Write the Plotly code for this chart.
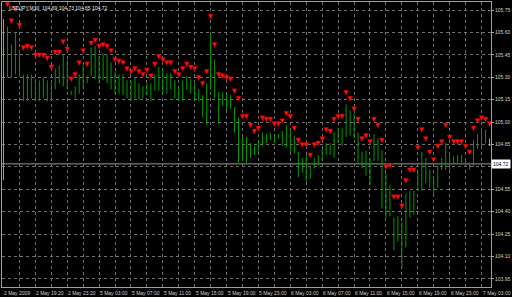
import plotly.graph_objects as go

# ---- data ----
bars = list(range(-1, 122))

highs = [105.69,
 105.64, 105.52, 105.60, 105.48, 105.32, 105.32, 105.32, 105.29, 105.28, 105.30,
 105.28, 105.26, 105.36, 105.38, 105.45, 105.42, 105.21, 105.24, 105.32, 105.38,
 105.31, 105.50, 105.51, 105.44, 105.46, 105.45, 105.40, 105.34, 105.32, 105.32,
 105.28, 105.28, 105.30, 105.26, 105.24, 105.26, 105.26, 105.32, 105.37, 105.36,
 105.33, 105.33, 105.28, 105.23, 105.28, 105.31, 105.29, 105.26, 105.22, 105.18,
 105.26, 105.60, 105.42, 105.20, 105.20, 105.19, 105.18, 105.10, 105.03, 104.90,
 104.90, 104.86, 104.84, 104.88, 104.93, 104.92, 104.93, 104.91, 104.92, 104.94,
 104.98, 104.95, 104.91, 104.80, 104.76, 104.78, 104.70, 104.76, 104.78, 104.82,
 104.86, 104.86, 104.93, 104.96, 104.96, 105.12, 105.08, 105.06, 104.93, 104.80,
 104.81, 104.76, 104.92, 104.89, 104.81, 104.66, 104.58, 104.36, 104.37, 104.33,
 104.52, 104.54, 104.54, 104.68, 104.80, 104.76, 104.68, 104.62, 104.71, 104.76,
 104.86, 104.80, 104.77, 104.78, 104.78, 104.76, 104.73, 104.88, 104.92, 104.96,
 104.95, 104.89]

lows = [104.61,
 105.30, 105.30, 105.32, 105.30, 105.14, 105.14, 105.16, 105.14, 105.14, 105.16,
 105.14, 105.14, 105.22, 105.26, 105.24, 105.22, 105.18, 105.16, 105.19, 105.22,
 105.26, 105.31, 105.29, 105.26, 105.28, 105.26, 105.22, 105.19, 105.19, 105.18,
 105.16, 105.14, 105.16, 105.15, 105.16, 105.18, 105.14, 105.21, 105.21, 105.19,
 105.19, 105.22, 105.16, 105.14, 105.14, 105.22, 105.19, 105.14, 105.14, 105.03,
 104.98, 105.22, 105.16, 104.99, 105.11, 105.08, 105.09, 104.93, 104.73, 104.74,
 104.73, 104.76, 104.78, 104.80, 104.84, 104.86, 104.88, 104.86, 104.89, 104.84,
 104.83, 104.80, 104.79, 104.63, 104.66, 104.60, 104.62, 104.69, 104.71, 104.74,
 104.78, 104.78, 104.76, 104.86, 104.84, 104.90, 104.91, 104.89, 104.72, 104.69,
 104.64, 104.58, 104.74, 104.74, 104.42, 104.36, 104.37, 104.14, 104.20, 104.02,
 104.16, 104.36, 104.38, 104.54, 104.54, 104.59, 104.56, 104.50, 104.56, 104.68,
 104.68, 104.68, 104.72, 104.72, 104.72, 104.71, 104.68, 104.70, 104.82, 104.83,
 104.86, 104.84]

signal = [None,
 105.77, 105.66, 105.74, 105.63, 105.48, 105.49, 105.48, 105.43, 105.43, 105.43,
 105.41, 105.35, 105.45, 105.45, 105.52, 105.47, 105.27, 105.30, 105.38, 105.46,
 105.37, 105.51, 105.53, 105.49, 105.50, 105.49, 105.46, 105.40, 105.39, 105.38,
 105.34, 105.32, 105.34, 105.32, 105.30, 105.33, 105.29, 105.37, 105.42, 105.40,
 105.38, 105.38, 105.32, 105.30, 105.34, 105.37, 105.35, 105.34, 105.28, 105.24,
 105.32, 105.69, 105.50, 105.30, 105.29, 105.28, 105.27, 105.19, 105.14, 105.02,
 105.02, 104.96, 104.92, 104.94, 105.01, 105.00, 105.00, 104.97, 104.97, 104.99,
 105.04, 105.02, 104.94, 104.86, 104.83, 104.83, 104.76, 104.83, 104.84, 104.87,
 104.93, 104.92, 105.00, 105.02, 105.02, 105.18, 105.14, 105.07, 105.00, 104.87,
 104.89, 104.85, 105.00, 104.96, 104.86, 104.68, 104.69, 104.48, 104.48, 104.42,
 104.59, 104.66, 104.66, 104.81, 104.93, 104.87, 104.78, 104.73, 104.82, 104.85,
 104.96, 104.88, 104.85, 104.85, 104.85, 104.82, 104.78, 104.94, 104.99, 105.01,
 105.00, 104.97]

time_labels = ["2 May 2009", "2 May 19:20", "2 May 23:20", "5 May 03:00", "5 May 07:00",
               "5 May 11:00", "5 May 15:00", "5 May 19:00", "5 May 23:00", "6 May 03:00",
               "6 May 07:00", "6 May 11:00", "6 May 15:00", "6 May 19:00", "6 May 23:00",
               "7 May 03:00"]
time_label_bars = [-1, 7, 15, 23, 31, 39, 47, 55, 63, 71, 79, 87, 95, 103, 111, 119]
grid_bars = list(range(3, 122, 4))

price_ticks = [103.95, 104.10, 104.25, 104.40, 104.55, 104.70, 104.85,
               105.00, 105.15, 105.30, 105.45, 105.60, 105.75]
last_close = 104.72
title_text = "USDJPY,M30  104.69 104.73 104.65 104.72"

FONT = "Liberation Sans"
GRID = "#707070"
TXT = "#d0d0d0"


def segments(indices):
    xs, ys = [], []
    for k in indices:
        xs += [bars[k], bars[k], None]
        ys += [highs[k], lows[k], None]
    return xs, ys


main_idx = list(range(1, len(bars) - 1))
edge_idx = [0, len(bars) - 1]

fig = go.Figure()
mx, my = segments(main_idx)
fig.add_trace(go.Scatter(x=mx, y=my, mode="lines", line=dict(color="#009c00", width=1),
                         hoverinfo="skip"))
ex, ey = segments(edge_idx)
fig.add_trace(go.Scatter(x=ex, y=ey, mode="lines", line=dict(color="#40e040", width=1),
                         hoverinfo="skip"))
fig.add_trace(go.Scatter(x=bars, y=signal, mode="markers",
                         marker=dict(symbol="arrow-down", size=5, color="#ff1010",
                                     line=dict(color="#a00000", width=0.5))))

fig.add_shape(type="line", xref="paper", x0=0, x1=1, yref="y", y0=last_close, y1=last_close,
              line=dict(color="#9a9a9a", width=1), layer="below")

fig.add_annotation(xref="paper", x=1, yref="y", y=last_close, text=f"{last_close:.2f}",
                   xanchor="left", yanchor="middle", showarrow=False, bgcolor="white",
                   borderpad=1, font=dict(family=FONT, size=5, color="black"))

fig.add_annotation(xref="paper", x=0, yref="paper", y=1, text=title_text,
                   xanchor="left", yanchor="top", xshift=5, yshift=-1, showarrow=False,
                   font=dict(family=FONT, size=5, color="#e8e8e8"))

for lab, b in zip(time_labels, time_label_bars):
    fig.add_annotation(xref="x", x=b, yref="paper", y=0, text=lab, xanchor="left",
                       yanchor="top", showarrow=False, xshift=-1, yshift=-1,
                       font=dict(family=FONT, size=5, color=TXT))

# the 104.70 scale label is covered by the current-price box in the reference
tick_text = ["" if abs(v - 104.70) < 1e-9 else f"{v:.2f}" for v in price_ticks]

fig.update_layout(
    width=512, height=297, margin=dict(l=1, r=20, t=1, b=10),
    paper_bgcolor="black", plot_bgcolor="black", showlegend=False,
    xaxis=dict(range=[-1.375, 121.375], tickvals=grid_bars, showticklabels=False,
               showgrid=True, gridcolor=GRID, griddash="dot", gridwidth=1,
               zeroline=False, showline=True, mirror=True, linecolor="#a0a0a0",
               linewidth=1, ticks=""),
    yaxis=dict(range=[103.895, 105.805], side="right", tickvals=price_ticks,
               ticktext=tick_text,
               tickfont=dict(family=FONT, size=5, color=TXT),
               ticks="outside", ticklen=2, tickcolor="#a0a0a0",
               showgrid=True, gridcolor=GRID, griddash="dot", gridwidth=1,
               zeroline=False, showline=True, mirror=True, linecolor="#a0a0a0",
               linewidth=1),
)

fig.write_html("out.html")
